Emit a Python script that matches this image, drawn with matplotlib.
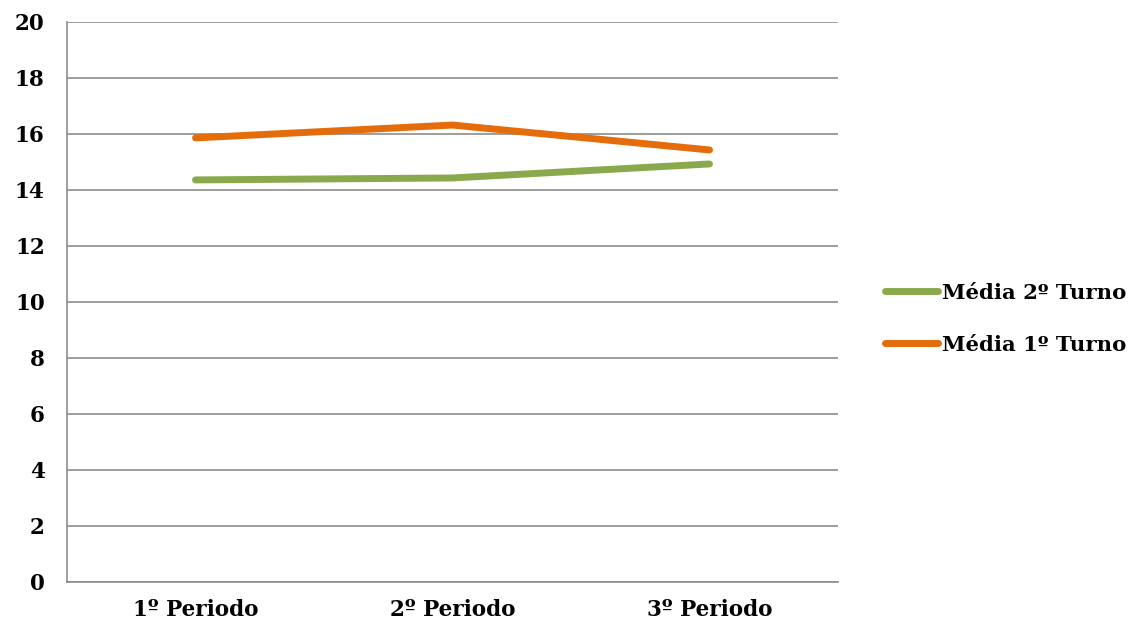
from matplotlib import pyplot as plt
import numpy as np

periods = ['1º Periodo', '2º Periodo', '3º Periodo']
media_2_turno = [14.36, 14.43, 14.93]
media_1_turno = [15.86, 16.32, 15.43]
y_ticks = list(range(0, 21, 2))

green = '#8AA94C'
orange = '#E46C0A'
grid_gray = '#8C8C8C'

plt.rcParams['font.family'] = ['DejaVu Serif']
plt.rcParams['font.weight'] = 'bold'

fig = plt.figure(figsize=(11.38, 6.28), dpi=100)
ax = fig.add_axes([67 / 1138, 1 - 582 / 628, (838 - 67) / 1138, (582 - 22) / 628])

x = np.arange(len(periods)) + 0.5
l2, = ax.plot(x, media_2_turno, color=green, lw=5, solid_capstyle='round',
              label='Média 2º Turno')
l1, = ax.plot(x, media_1_turno, color=orange, lw=5, solid_capstyle='round',
              label='Média 1º Turno')

ax.set_xlim(0, 3)
ax.set_ylim(0, 20)
ax.set_yticks(y_ticks)
ax.set_xticks(x)
ax.set_xticklabels(periods)
ax.tick_params(length=0, labelsize=15.5)
ax.tick_params(axis='x', pad=12)
ax.tick_params(axis='y', pad=16)
ax.yaxis.grid(True, color=grid_gray, lw=1.2)
ax.set_axisbelow(True)
for side in ['top', 'right']:
    ax.spines[side].set_visible(False)
for side in ['left', 'bottom']:
    ax.spines[side].set_color(grid_gray)
    ax.spines[side].set_linewidth(1.2)

ax.legend(handles=[l2, l1], loc='center left', bbox_to_anchor=(1.036, 0.47),
          frameon=False, fontsize=15.3, handlelength=2.5, handletextpad=0.2,
          labelspacing=1.5)

fig.savefig('out.png', dpi=100)
